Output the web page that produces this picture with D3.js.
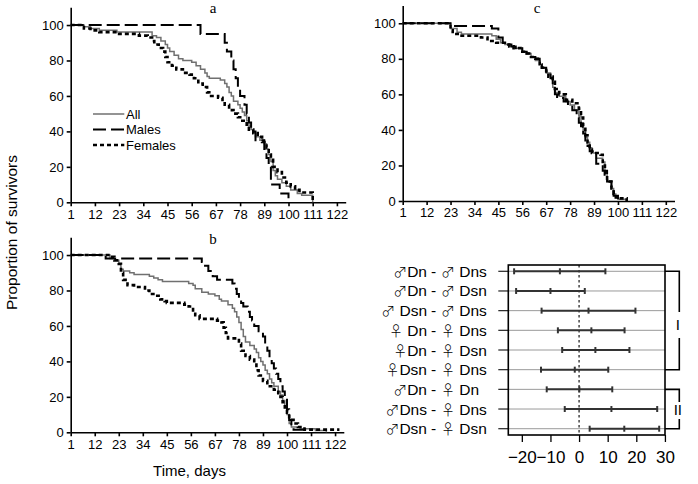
<!DOCTYPE html>
<html><head><meta charset="utf-8">
<script src="https://cdn.jsdelivr.net/npm/d3@7"></script>
<style>
body{margin:0;background:#fff;}
svg{display:block;font-family:"Liberation Sans",Arial,sans-serif;}
</style></head>
<body><svg id="c" width="698" height="484"></svg>
<script>
// ---------- data ----------
const xTicks = [1,12,23,34,45,56,67,78,89,100,111,122];
const yTicks = [0,20,40,60,80,100];
const seriesNames = ["All","Males","Females"];

// panel a
const aAll = [[1,100],[7,99],[10,98],[14,97],[22,96],[38,94],[40,93],[42,91],[44,89],[45,87],[46,85],[48,83],[50,81],[52,80],[56,79],[58,77],[60,75],[62,73],[63,71],[64,70],[69,69],[71,67],[72,65],[73,62],[74,60],[75,57],[77,55],[78,53],[79,51],[80,49],[81,46],[82,43],[83,41],[84,39],[85,37],[87,35],[89,33],[90,30],[91,27],[92,23],[93,18],[94,15],[95,13],[97,11],[99,9],[101,7],[104,5],[106,4],[110,4],[111,0]];
const aMales = [[1,100],[60,95],[71,90],[72,85],[74,80],[75,75],[76,70],[77,65],[78,60],[80,55],[81,50],[82,45],[83,40],[85,35],[89,30],[90,25],[91,20],[92,10],[96,5],[100,0]];
const aFemales = [[1,100],[7,98],[10,97],[14,96],[23,95],[32,94],[36,93],[38,91],[39,89],[41,87],[43,85],[44,82],[45,79],[47,77],[49,75],[52,73],[55,72],[57,70],[59,67],[61,65],[63,62],[64,60],[68,59],[70,57],[71,55],[73,52],[75,50],[77,48],[79,46],[81,43],[82,41],[84,39],[86,37],[88,34],[90,31],[91,27],[92,24],[93,20],[95,17],[97,14],[99,11],[101,9],[103,7],[105,5.5],[110,5.5],[111,0]];

// panel b
const bAll = [[1,100],[19,98],[21,97],[23,95],[24,92],[25,91],[28,90],[30,89],[37,88],[39,87],[41,86],[43,85],[55,84],[57,83],[58,81],[61,79],[64,78],[67,77],[69,75],[70,74],[73,72],[75,70],[76,68],[77,65],[78,62],[79,58],[80,54],[81,51],[83,49],[85,47],[86,45],[87,42],[88,40],[89,38],[90,35],[91,33],[92,30],[93,28],[94,26],[96,23],[97,21],[98,18],[99,14],[100,10],[101,5],[102,3],[106,2],[113,1],[118,0]];
const bMales = [[1,100],[17,98],[61,96],[62,94],[64,91],[66,88],[68,86],[75,84],[76,81],[77,78],[78,75],[79,73],[80,71],[82,68],[83,65],[84,63],[85,60],[87,57],[89,54],[90,50],[91,46],[92,42],[93,39],[94,36],[95,33],[96,30],[97,26],[98,23],[99,19],[100,13],[101,7],[102,3],[103,1.5],[108,0]];
const bFemales = [[1,100],[19,99],[21,97],[23,95],[24,90],[25,86],[27,83],[30,82],[35,80],[37,78],[40,77],[42,75],[44,74],[45,73],[53,72],[55,71],[57,68],[58,66],[60,64],[68,63],[70,62],[71,59],[72,56],[73,53],[78,50],[79,46],[81,43],[83,41],[85,39],[86,35],[87,32],[89,29],[91,26],[94,24],[96,22],[97,20],[98,17],[99,14],[100,11],[101,7],[103,5],[105,3],[108,1.5],[124,1.5]];

// panel c
const cAll = [[1,100],[23,97],[26,95],[28,94],[42,93],[44,91],[46,89],[48,88],[50,87],[52,86],[56,84],[58,83],[60,81],[62,79],[64,77],[65,75],[67,72],[69,69],[70,64],[71,61],[73,59],[76,56],[78,54],[80,51],[82,48],[83,44],[84,40],[85,36],[86,33],[87,30],[88,27],[90,24],[93,22],[94,16],[95,11],[97,7],[98,4],[99,2],[100,1],[104,0]];
const cMales = [[1,100],[23,98.5],[42,97],[45,92],[47,89],[49,88],[51,87],[53,86],[56,84],[58,83],[60,81],[62,80],[64,77],[65,75],[67,72],[69,69],[70,65],[71,60],[72,58],[75,56],[77,54],[79,51],[81,47],[82,44],[83,42],[84,38],[85,34],[86,31],[87,28],[89,26],[90,21],[93,17],[95,11],[97,6],[98,3],[100,0]];
const cFemales = [[1,100],[23,96],[24,94],[27,93],[37,92],[40,90],[44,89],[48,88],[50,87],[52,86],[56,84],[58,83],[60,81],[62,80],[64,77],[65,75],[67,73],[68,70],[70,67],[71,63],[73,60],[76,57],[79,55],[82,52],[83,47],[84,42],[85,37],[86,33],[87,29],[88,27],[92,26],[93,20],[94,15],[95,11],[97,7],[98,4],[99,2],[100,1.5],[104,0]];

// panel d (Tukey comparisons)
const compLeft  = ["♂Dn","♂Dn","♂ Dsn","♀ Dn","♀Dn","♀Dsn","♂Dn","♂Dns","♂Dsn"];
const compRight = ["♂ Dns","♂ Dsn","♂ Dns","♀ Dns","♀ Dsn","♀ Dns","♀ Dn","♀ Dns","♀ Dsn"];
const diffVals  = [-6.7,-10.0,3.3,4.3,5.7,-1.5,0.1,11.3,15.8];
const lwrVals   = [-22.7,-22.0,-13.1,-7.4,-5.9,-13.3,-11.3,-5.0,3.7];
const uprVals   = [9.2,2.0,19.7,15.9,17.6,10.2,11.6,27.3,28.0];
const dTicks = [-20,-10,0,10,20,30];
const groupLabels = ["I","II"];

// ---------- drawing ----------
const svg = d3.select("#c");
const styles = {
  All:{stroke:"#707070",width:1.5,dash:null},
  Males:{stroke:"#000",width:2,dash:"13,5"},
  Females:{stroke:"#000",width:2.6,dash:"4,3"}
};

function survPanel(cfg){
  const x = d3.scaleLinear().domain([1,126]).range(cfg.xr);
  const y = d3.scaleLinear().domain([0,110]).range(cfg.yr);
  const g = svg.append("g");
  const ax = g.append("g").attr("transform",`translate(0,${y(0)})`)
    .call(d3.axisBottom(x).tickValues(xTicks).tickSize(4).tickSizeOuter(0).tickPadding(3));
  const ay = g.append("g").attr("transform",`translate(${x(1)},0)`)
    .call(d3.axisLeft(y).tickValues(yTicks).tickSize(4).tickSizeOuter(0).tickPadding(3));
  [ax,ay].forEach(a=>{
    a.selectAll("path,line").attr("stroke","#000").attr("stroke-width",1.6);
    a.selectAll("text").attr("font-size",13).attr("fill","#000")
      .attr("font-family","'Liberation Sans',Arial,sans-serif");
  });
  const line = d3.line().x(d=>x(d[0])).y(d=>y(d[1])).curve(d3.curveStepAfter);
  const order = [["All",cfg.all],["Males",cfg.males],["Females",cfg.females]];
  order.forEach(([n,data])=>{
    const s = styles[n];
    g.append("path").datum(data).attr("d",line).attr("fill","none")
      .attr("stroke",s.stroke).attr("stroke-width",s.width)
      .attr("stroke-dasharray",s.dash);
  });
  g.append("text").attr("x",cfg.titleX).attr("y",cfg.titleY).attr("text-anchor","middle")
    .attr("font-family","'Liberation Serif','Times New Roman',serif").attr("font-size",15)
    .text(cfg.title);
  return {x,y,g};
}

const pa = survPanel({xr:[70.7,345.7],yr:[202.3,7.3],all:aAll,males:aMales,females:aFemales,title:"a",titleX:213,titleY:13});
const pb = survPanel({xr:[70.7,343.8],yr:[432.3,237.3],all:bAll,males:bMales,females:bFemales,title:"b",titleX:213,titleY:244});
const pc = survPanel({xr:[402.7,674.5],yr:[201,5.5],all:cAll,males:cMales,females:cFemales,title:"c",titleX:537,titleY:13});

// legend in panel a
seriesNames.forEach((n,i)=>{
  const yy = [114,129.5,145][i];
  const s = styles[n];
  pa.g.append("line").attr("x1",93).attr("x2",124.3).attr("y1",yy).attr("y2",yy)
    .attr("stroke",s.stroke).attr("stroke-width",s.width).attr("stroke-dasharray",s.dash);
  pa.g.append("text").attr("x",126).attr("y",yy).attr("dy","0.35em")
    .attr("font-size",13).text(n);
});

// axis titles
svg.append("text").attr("transform","translate(17,232.5) rotate(-90)")
  .attr("text-anchor","middle").attr("font-size",15.5).text("Proportion of survivors");
svg.append("text").attr("x",189.5).attr("y",476).attr("text-anchor","middle")
  .attr("font-size",15).text("Time, days");

// ---------- panel d ----------
const ext = d3.extent(lwrVals.concat(uprVals));
const pad = (ext[1]-ext[0])*0.04;
const dx = d3.scaleLinear().domain([ext[0]-pad, ext[1]+pad]).range([508.3,665]);
const n = diffVals.length;
const dy = d3.scaleLinear().domain([1-0.04*(n-1), n+0.04*(n-1)]).range([265,435]);
const gd = svg.append("g");
const rows = d3.range(n);

gd.selectAll("line.grid").data(rows).join("line")
  .attr("x1",dx.range()[0]).attr("x2",dx.range()[1])
  .attr("y1",i=>dy(i+1)).attr("y2",i=>dy(i+1)).attr("stroke","#9a9a9a").attr("stroke-width",1);
gd.selectAll("line.ltick").data(rows).join("line")
  .attr("x1",498.3).attr("x2",dx.range()[0])
  .attr("y1",i=>dy(i+1)).attr("y2",i=>dy(i+1)).attr("stroke","#222").attr("stroke-width",1.2);

gd.append("line").attr("x1",dx(0)).attr("x2",dx(0)).attr("y1",265).attr("y2",435)
  .attr("stroke","#000").attr("stroke-width",1.1).attr("stroke-dasharray","2.5,2.5");

// label with sex symbol in a thin CJK font that holds the glyph at full size
function sexLabel(sel, str){
  const sym = str[0];
  const rest = str.slice(1);
  sel.append("tspan").attr("font-family","'Noto Sans CJK SC',sans-serif").attr("font-size",14)
    .attr("font-weight",300).text(sym);
  sel.append("tspan").text(rest);
}

rows.forEach(i=>{
  const yy = dy(i+1);
  gd.append("line").attr("x1",dx(lwrVals[i])).attr("x2",dx(uprVals[i])).attr("y1",yy).attr("y2",yy)
    .attr("stroke","#333").attr("stroke-width",2);
  [lwrVals[i],diffVals[i],uprVals[i]].forEach(v=>{
    gd.append("line").attr("x1",dx(v)).attr("x2",dx(v)).attr("y1",yy-3).attr("y2",yy+3)
      .attr("stroke","#333").attr("stroke-width",2);
  });
  const tl = gd.append("text").attr("x",427).attr("y",yy+5.5).attr("text-anchor","end")
    .attr("font-size",15.5);
  sexLabel(tl, compLeft[i]);
  gd.append("text").attr("x",433.5).attr("y",yy+5.5).attr("text-anchor","middle")
    .attr("font-size",15.5).text("-");
  const tr = gd.append("text").attr("x",441).attr("y",yy+5.5).attr("text-anchor","start")
    .attr("font-size",15.5);
  sexLabel(tr, compRight[i]);
});

gd.append("rect").attr("x",508.3).attr("y",265).attr("width",665-508.3).attr("height",170)
  .attr("fill","none").attr("stroke","#000").attr("stroke-width",1.6);

const dax = gd.append("g").attr("transform","translate(0,435)")
  .call(d3.axisBottom(dx).tickValues(dTicks).tickSize(7).tickPadding(9).tickSizeOuter(0));
dax.select(".domain").remove();
dax.selectAll("line").attr("stroke","#000").attr("stroke-width",1.3);
dax.selectAll("text").attr("font-size",17).attr("fill","#000")
  .attr("font-family","'Liberation Sans',Arial,sans-serif");

// brackets
const bx = 679.3;
function bracket(r1,r2,label,gapTop,gapBot,labelY){
  const y1 = dy(r1), y2 = dy(r2);
  gd.append("path").attr("fill","none").attr("stroke","#000").attr("stroke-width",1.6)
    .attr("d",`M${dx.range()[1]},${y1}H${bx}V${gapTop}M${bx},${gapBot}V${y2}H${dx.range()[1]}`);
  gd.append("text").attr("x",bx-1.5).attr("y",labelY).attr("dy","0.35em").attr("text-anchor","middle")
    .attr("font-size",15).text(label);
}
bracket(1,6,groupLabels[0],312,338,325);
bracket(7,9,groupLabels[1],402,419,410);
</script></body></html>
